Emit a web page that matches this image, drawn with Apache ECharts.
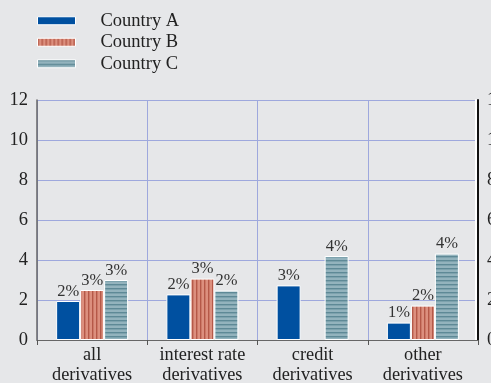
<!DOCTYPE html>
<html>
<head>
<meta charset="utf-8">
<style>
  html, body { margin: 0; padding: 0; background: #e6e7e9; }
  #chart { width: 491px; height: 383px; }
</style>
<script src="https://cdn.jsdelivr.net/npm/echarts@6/dist/echarts.min.js"></script>
</head>
<body>
<div id="chart"></div>
<script>
// Categories and values (per cent)
const categories = ['all\nderivatives', 'interest rate\nderivatives', 'credit\nderivatives', 'other\nderivatives'];
const seriesNames = ['Country A', 'Country B', 'Country C'];
const countryA = [1.95, 2.28, 2.73, 0.87];
const countryB = [2.5, 3.07, null, 1.72];
const countryC = [3.0, 2.47, 4.2, 4.32];
const yTicks = [0, 2, 4, 6, 8, 10, 12];

// Small repeating tiles used as bar fills
function stripeTile(base, line, vertical) {
  const c = document.createElement('canvas');
  c.width = 4; c.height = 4;
  const g = c.getContext('2d');
  g.fillStyle = base;
  g.fillRect(0, 0, 4, 4);
  g.fillStyle = line;
  if (vertical) g.fillRect(0, 0, 1.4, 4);
  else g.fillRect(0, 0, 4, 1.4);
  return { image: c, repeat: 'repeat' };
}

const fillA = '#0050a0';
const fillB = stripeTile('#dc8f7e', '#b55848', true);
const fillC = stripeTile('#93b3bd', '#5e8996', false);

const serif = '"Liberation Serif", "DejaVu Serif", serif';
const gridBlue = '#9ea8dd';

function makeSeries(name, data, color) {
  return {
    name: name,
    type: 'bar',
    data: data,
    barWidth: 24,
    barGap: '0%',
    itemStyle: { color: color, borderColor: '#ffffff', borderWidth: 1 },
    label: {
      show: true,
      position: 'top',
      distance: 1,
      fontFamily: serif,
      fontSize: 16.5,
      color: '#333',
      formatter: p => Math.round(p.value) + '%'
    }
  };
}

const chart = echarts.init(document.getElementById('chart'));
chart.setOption({
  backgroundColor: '#e6e7e9',
  animation: false,
  legend: {
    orient: 'vertical',
    left: 37,
    top: 10,
    padding: 0,
    itemWidth: 38,
    itemHeight: 8,
    itemGap: 0,
    icon: 'rect',
    itemStyle: { borderColor: '#ffffff', borderWidth: 1 },
    textStyle: { fontFamily: serif, fontSize: 18.5, color: '#222', lineHeight: 21.5, padding: [0, 0, 0, 20] },
    data: seriesNames
  },
  grid: { left: 37, right: 13, top: 100, bottom: 43, outerBoundsMode: 'none', containLabel: false },
  xAxis: {
    type: 'category',
    data: categories,
    boundaryGap: true,
    axisLine: { show: true, lineStyle: { color: '#666', width: 1.2 } },
    axisTick: { show: true, interval: 0, length: 5, lineStyle: { color: '#555' } },
    axisLabel: { interval: 0, hideOverlap: false, fontFamily: serif, fontSize: 18.3, color: '#222', lineHeight: 20, margin: 5 },
    splitLine: { show: true, interval: 0, lineStyle: { color: gridBlue, width: 1 } }
  },
  yAxis: [
    {
      type: 'value',
      min: 0, max: 12, interval: 2,
      axisLine: { show: true, lineStyle: { color: '#666', width: 1.5 } },
      axisTick: { show: false },
      axisLabel: { fontFamily: serif, fontSize: 18.5, color: '#222', margin: 9,
                   formatter: v => yTicks.includes(v) ? String(v) : '' },
      splitLine: { show: true, lineStyle: { color: gridBlue, width: 1 } }
    },
    {
      type: 'value',
      position: 'right',
      min: 0, max: 12, interval: 2,
      axisLine: { show: true, lineStyle: { color: '#111', width: 2, shadowColor: '#ffffff', shadowOffsetX: -2 } },
      axisTick: { show: false },
      axisLabel: { fontFamily: serif, fontSize: 18.5, color: '#222', margin: 9 },
      splitLine: { show: false }
    }
  ],
  series: [
    makeSeries(seriesNames[0], countryA, fillA),
    makeSeries(seriesNames[1], countryB, fillB),
    makeSeries(seriesNames[2], countryC, fillC)
  ]
});
</script>
</body>
</html>
